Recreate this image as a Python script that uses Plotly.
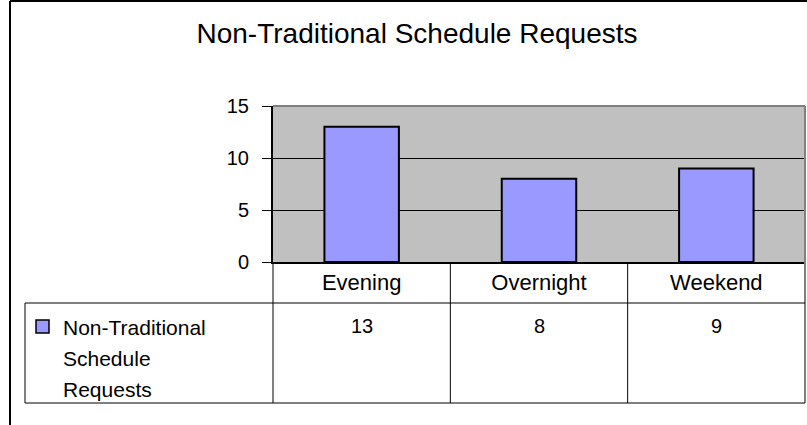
import plotly.graph_objects as go

# chart data
categories = ["Evening", "Overnight", "Weekend"]
requests = [13, 8, 9]
series_name = "Non-Traditional Schedule Requests"
legend_lines = ["Non-Traditional", "Schedule", "Requests"]
y_ticks = [0, 5, 10, 15]

FONT = "Liberation Sans, Arial, sans-serif"
W, H = 807, 425
L, R, T, B = 273, 2, 106, 163
PW = W - L - R
PH = H - T - B


def px_x(x):
    """ pixel x -> paper x """
    return (x - L) / PW


def px_y(y):
    """ pixel y -> paper y """
    return (H - B - y) / PH


fig = go.Figure()
fig.add_trace(go.Bar(
    x=categories,
    y=requests,
    name=series_name,
    marker=dict(color="#9999FF", line=dict(color="black", width=2)),
    showlegend=False,
))

fig.update_layout(
    width=W, height=H,
    margin=dict(l=L, r=R, t=T, b=B),
    paper_bgcolor="white",
    plot_bgcolor="#C0C0C0",
    bargap=0.58,
    font=dict(family=FONT, color="black"),
    title=dict(text="Non-Traditional Schedule Requests", x=417 / W, xanchor="center",
               y=1 - 33 / H, yanchor="middle", font=dict(size=28, family=FONT)),
)

fig.update_yaxes(
    range=[0, 15], tickvals=y_ticks, showgrid=True, gridcolor="black", gridwidth=1,
    showline=True, linecolor="black", linewidth=2, ticks="outside", ticklen=9,
    tickcolor="black", tickwidth=1, tickfont=dict(size=20), ticklabelstandoff=9,
    zeroline=False, fixedrange=True,
)
fig.update_xaxes(
    range=[-0.5, len(categories) - 0.5], showline=True, linecolor="black", linewidth=2,
    ticks="", tickfont=dict(size=22), showgrid=False, fixedrange=True,
)

shapes = []
line_k = dict(color="black", width=1)
gray = dict(color="#808080", width=2)

# plot area border (top and right)
shapes.append(dict(type="line", xref="paper", yref="paper", x0=0, x1=1, y0=1, y1=1, line=gray))
shapes.append(dict(type="line", xref="paper", yref="paper", x0=1, x1=1, y0=1, y1=px_y(403), line=gray))

# data table grid
n = len(categories)
for k in range(n):
    shapes.append(dict(type="line", xref="paper", yref="paper", x0=k / n, x1=k / n,
                       y0=0, y1=px_y(403), line=line_k))
shapes.append(dict(type="line", xref="paper", yref="paper", x0=px_x(25), x1=1,
                   y0=px_y(303), y1=px_y(303), line=line_k))
shapes.append(dict(type="line", xref="paper", yref="paper", x0=px_x(25), x1=1,
                   y0=px_y(403), y1=px_y(403), line=line_k))
shapes.append(dict(type="line", xref="paper", yref="paper", x0=px_x(25), x1=px_x(25),
                   y0=px_y(303), y1=px_y(403), line=line_k))

# legend key
shapes.append(dict(type="rect", xref="paper", yref="paper", x0=px_x(36), x1=px_x(49),
                   y0=px_y(333), y1=px_y(320), fillcolor="#9999FF",
                   line=dict(color="black", width=1.5)))

# outer chart border
shapes.append(dict(type="line", xref="paper", yref="paper", x0=px_x(10), x1=px_x(820),
                   y0=px_y(1), y1=px_y(1), line=dict(color="black", width=2)))
shapes.append(dict(type="line", xref="paper", yref="paper", x0=px_x(10), x1=px_x(10),
                   y0=px_y(1), y1=px_y(440), line=dict(color="black", width=2)))

fig.update_layout(shapes=shapes)

# values row
for cat, val in zip(categories, requests):
    fig.add_annotation(x=cat, xref="x", y=px_y(326), yref="paper", text=str(val),
                       showarrow=False, font=dict(size=20), xanchor="center", yanchor="middle")

# series label in the table
for i, line in enumerate(legend_lines):
    fig.add_annotation(x=px_x(61), xref="paper", y=px_y(327 + 31 * i), yref="paper",
                       text=line, showarrow=False, font=dict(size=21),
                       xanchor="left", yanchor="middle")

# drop the default page margin so the figure sits at the window origin
fig.write_html("out.html", config={"displayModeBar": False},
               post_script="document.body.style.margin = '0';")
